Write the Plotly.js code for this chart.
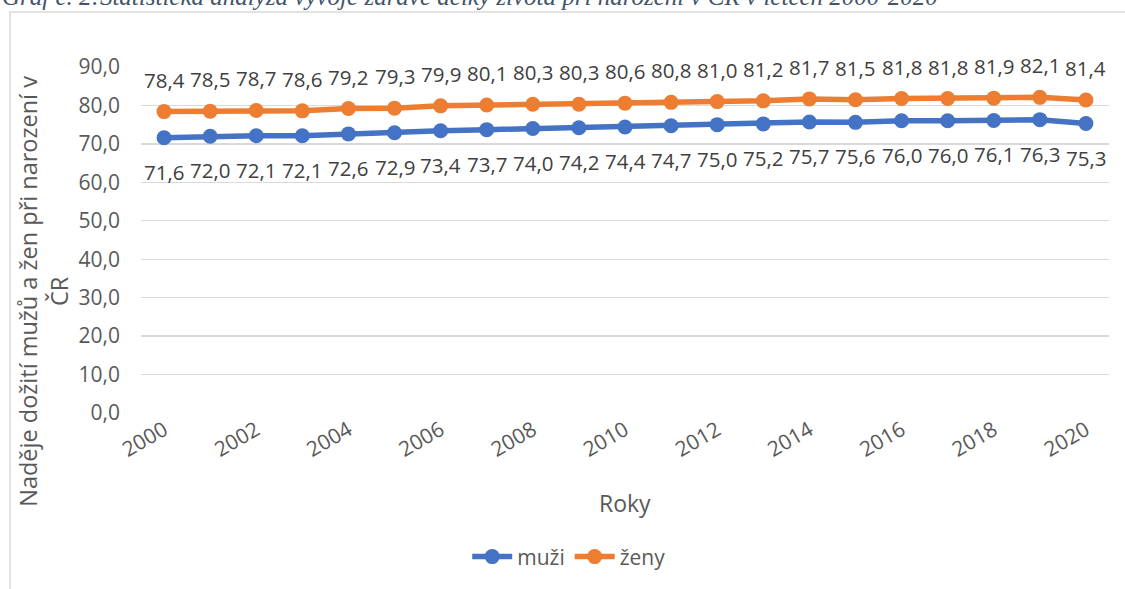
<!DOCTYPE html>
<html>
<head>
<meta charset="utf-8">
<script src="https://cdn.plot.ly/plotly-3.0.1.min.js"></script>
<style>
html,body{margin:0;padding:0;background:#fff;}
#chart{width:1125px;height:589px;}
</style>
</head>
<body>
<div id="chart"></div>
<script>
const years = [2000,2001,2002,2003,2004,2005,2006,2007,2008,2009,2010,2011,2012,2013,2014,2015,2016,2017,2018,2019,2020];
const muzi = [71.6,72.0,72.1,72.1,72.6,72.9,73.4,73.7,74.0,74.2,74.4,74.7,75.0,75.2,75.7,75.6,76.0,76.0,76.1,76.3,75.3];
const zeny = [78.4,78.5,78.7,78.6,79.2,79.3,79.9,80.1,80.3,80.3,80.6,80.8,81.0,81.2,81.7,81.5,81.8,81.8,81.9,82.1,81.4];
const seriesNames = ["muži","ženy"];
const titleText = "Graf č. 2:Statistická analýza vývoje zárave délky života při narození v ČR v letech 2000-2020";
const yTitle = "Naděje dožití mužů a žen při narození v<br>ČR";
const xTitle = "Roky";

const BLUE = "#4472C4", ORANGE = "#ED7D31";
const FONT = "Open Sans, Noto Sans, sans-serif";

const fmt = v => v.toFixed(1).replace(".", ",");

const traces = [
  {x: years, y: muzi, name: seriesNames[0], type: "scatter", mode: "lines+markers",
   line: {color: BLUE, width: 5.5}, marker: {color: BLUE, size: 15}},
  {x: years, y: zeny, name: seriesNames[1], type: "scatter", mode: "lines+markers",
   line: {color: ORANGE, width: 5.5}, marker: {color: ORANGE, size: 15}}
];

const annotations = [];
years.forEach((yr, i) => {
  annotations.push({x: yr, y: muzi[i], xref: "x", yref: "y", text: fmt(muzi[i]), showarrow: false,
    yshift: -34, font: {family: FONT, size: 20.5, color: "#404040"}});
  annotations.push({x: yr, y: zeny[i], xref: "x", yref: "y", text: fmt(zeny[i]), showarrow: false,
    yshift: 32, font: {family: FONT, size: 20.5, color: "#404040"}});
});
annotations.push({xref: "paper", yref: "paper", x: -0.1457, y: 1.203, xanchor: "left", yanchor: "middle",
  text: "<i>" + titleText + "</i>", showarrow: false,
  font: {family: "Liberation Serif, Times New Roman, serif", size: 25, color: "#44546A"}});
annotations.push({xref: "paper", yref: "paper", x: -0.1003, y: 0.353, xanchor: "center", yanchor: "middle",
  text: yTitle, textangle: -90, showarrow: false,
  font: {family: FONT, size: 23.5, color: "#595959"}});
annotations.push({xref: "paper", yref: "paper", x: 0.5, y: -0.26, xanchor: "center", yanchor: "middle",
  text: xTitle, showarrow: false,
  font: {family: FONT, size: 23, color: "#595959"}});

const layout = {
  width: 1125, height: 589,
  margin: {l: 141, r: 16, t: 67, b: 176},
  paper_bgcolor: "#fff", plot_bgcolor: "#fff",
  separators: ", ",
  showlegend: true,
  legend: {orientation: "h", x: 0.337, xanchor: "left", y: -0.416, yanchor: "middle",
    font: {family: FONT, size: 21, color: "#595959"}, itemwidth: 40},
  xaxis: {range: [1999.5, 2020.5], tick0: 2000, dtick: 2, tickangle: -30,
    showgrid: false, zeroline: false, showline: false, ticks: "",
    tickfont: {family: FONT, size: 21, color: "#595959"}, fixedrange: true},
  yaxis: {range: [0, 90], dtick: 10, tickformat: ".1f", showgrid: true, gridcolor: "#d9d9d9", gridwidth: 1.3,
    zeroline: false, showline: false, ticks: "", ticklabelstandoff: 20,
    tickfont: {family: FONT, size: 21, color: "#595959"}, fixedrange: true},
  annotations: annotations,
  shapes: [{type: "rect", xref: "paper", yref: "paper", x0: -0.1353, x1: 1.2, y0: -0.7, y1: 1.159,
    line: {color: "#d9d9d9", width: 1.5}, fillcolor: "rgba(0,0,0,0)", layer: "below"}]
};

Plotly.newPlot("chart", traces, layout, {displayModeBar: false, staticPlot: true});
</script>
</body>
</html>
